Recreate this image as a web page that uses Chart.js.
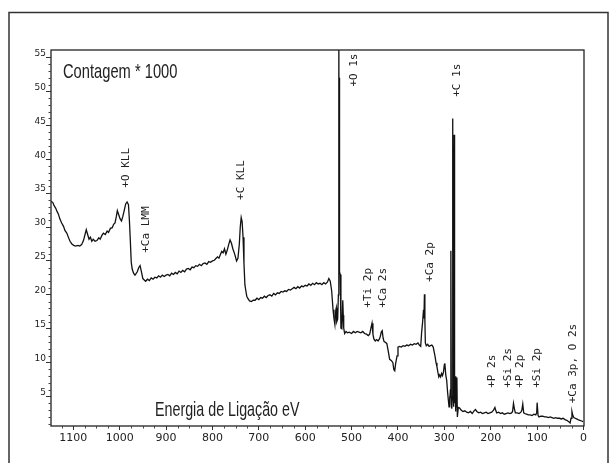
<!DOCTYPE html>
<html>
<head>
<meta charset="utf-8">
<script src="https://cdn.jsdelivr.net/npm/chart.js"></script>
<style>
  body { margin: 0; background: #fff; }
  #wrap { position: relative; width: 613px; height: 463px; }
</style>
</head>
<body>
<div id="wrap"><canvas id="xps"></canvas></div>
<script>
// binding energy (eV) and counts (x1000)
const energy = [
  1148, 1144, 1141, 1138, 1135, 1132, 1129, 1125, 1121, 1118, 1114, 1110, 1107, 1103, 1099, 1095,
  1090, 1086, 1082, 1078, 1075, 1072, 1069, 1066, 1063, 1060, 1057, 1053, 1049, 1045, 1042, 1038,
  1035, 1031, 1027, 1024, 1020, 1016, 1013, 1010, 1007, 1005, 1002, 999, 996, 993, 990, 987,
  984, 981, 979, 977, 975, 973, 970, 967, 965, 962, 959, 956, 953, 950, 947, 944,
  940, 936, 932, 928, 924, 920, 916, 912, 908, 904, 900, 896, 892, 888, 884, 880,
  876, 872, 868, 864, 860, 856, 852, 848, 844, 840, 836, 832, 828, 824, 820, 816,
  812, 808, 804, 800, 796, 792, 789, 786, 783, 780, 777, 774, 771, 768, 765, 762,
  759, 756, 752, 748, 745, 742, 740, 738, 736, 734, 732, 730, 728, 726, 724, 720,
  716, 712, 708, 704, 700, 696, 692, 688, 684, 680, 676, 672, 668, 664, 660, 656,
  652, 648, 644, 640, 636, 632, 628, 624, 620, 616, 612, 608, 604, 600, 596, 592,
  588, 584, 580, 576, 572, 568, 564, 560, 556, 552, 549, 546, 543, 540, 538, 536,
  534, 533, 532, 530, 528.5, 527.5, 527, 526.5, 525.5, 524.5, 523, 521, 519, 518, 517, 515,
  512, 509, 505, 500, 496, 492, 488, 484, 480, 476, 472, 468, 464, 461, 458, 456,
  454, 452, 449, 446, 443, 440, 438, 436, 434, 432, 430, 427, 424, 421, 418, 414,
  411, 409, 407, 405, 402, 400, 397, 393, 389, 385, 381, 377, 373, 369, 365, 361,
  357, 354, 351, 349, 347, 345, 344, 343, 342, 341, 339, 336, 333, 330, 327, 324,
  322, 320, 318, 316, 314, 312, 310, 308, 306, 304, 302, 300, 299, 297, 295, 293,
  291, 290, 289, 288, 287, 286, 285, 284, 283, 282, 281, 280, 279, 278, 277, 276,
  275, 274, 273, 272, 270, 267, 264, 260, 256, 252, 248, 244, 240, 236, 233, 230,
  226, 222, 218, 214, 210, 206, 202, 198, 194, 191, 189, 187, 183, 179, 175, 171,
  167, 163, 159, 155, 153, 151, 149, 147, 143, 139, 135, 133, 131, 129, 127, 123,
  119, 115, 111, 107, 103, 101, 100, 98, 96, 92, 88, 84, 80, 76, 72, 68,
  64, 60, 56, 52, 48, 44, 40, 36, 32, 29, 27, 25, 23, 21, 18, 15,
  12, 8, 4, 1
];
const counts = [
  33.8, 33.6, 33.1, 32.8, 32.3, 31.9, 31.2, 30.6, 30.1, 29.5, 29.1, 28.4, 27.9, 27.5, 27.3, 27.2,
  27.3, 27.2, 27.4, 28.0, 28.8, 29.6, 28.9, 28.2, 28.5, 27.9, 28.2, 27.9, 28.0, 28.4, 28.2, 28.8,
  29.1, 28.9, 29.4, 29.2, 29.8, 29.9, 30.4, 30.6, 31.6, 32.4, 31.8, 31.2, 30.9, 31.6, 32.5, 33.4,
  33.7, 33.3, 31.0, 28.0, 24.8, 23.8, 23.2, 22.9, 23.1, 23.4, 24.0, 24.3, 23.4, 22.4, 22.2, 22.0,
  22.3, 22.1, 22.5, 22.3, 22.6, 22.5, 22.8, 22.6, 22.9, 22.7, 22.9, 23.0, 22.8, 23.2, 23.0, 23.3,
  23.1, 23.5, 23.3, 23.6, 23.4, 23.8, 23.9, 23.7, 24.1, 24.0, 24.3, 24.2, 24.5, 24.3, 24.6, 24.7,
  24.5, 24.9, 24.8, 25.0, 25.1, 25.4, 25.6, 25.4, 25.9, 26.4, 26.2, 26.8, 26.0, 26.6, 27.4, 28.1,
  27.6, 26.8, 26.0, 25.0, 25.4, 27.5, 30.0, 31.4, 30.8, 28.5, 24.6, 21.5, 20.6, 19.8, 19.5, 19.1,
  19.0, 19.2, 19.2, 19.5, 19.3, 19.6, 19.5, 19.8, 19.6, 19.9, 20.0, 19.8, 20.2, 20.0, 20.3, 20.2,
  20.5, 20.4, 20.6, 20.5, 20.8, 20.7, 20.9, 21.1, 20.9, 21.2, 21.0, 21.3, 21.2, 21.4, 21.3, 21.6,
  21.4, 21.7, 21.5, 21.8, 21.6, 21.7, 21.5, 21.8, 21.6, 21.9, 22.4, 22.0, 20.6, 17.8, 16.5, 15.6,
  17.8, 18.1, 16.0, 16.4, 20.0, 58.0, 38.7, 52.0, 23.4, 23.0, 15.1, 15.0, 19.2, 17.0, 15.1, 14.3,
  14.6, 14.4, 14.5, 14.3, 14.6, 14.4, 14.6, 14.5, 14.4, 14.6, 14.3, 14.2, 14.0, 14.2, 15.2, 15.8,
  14.2, 13.5, 13.2, 13.4, 13.2, 13.5, 13.9, 14.5, 14.7, 13.6, 13.1, 13.0, 12.8, 11.7, 10.5, 10.3,
  10.0, 9.0, 8.8, 9.9, 11.0, 12.3, 12.4, 12.3, 12.5, 12.4, 12.6, 12.5, 12.7, 12.6, 12.8, 12.7,
  12.9, 12.6, 12.4, 14.5, 15.9, 17.8, 16.5, 20.1, 16.2, 12.9, 12.5, 12.7, 12.4, 12.5, 12.6, 12.3,
  11.6, 10.9, 10.0, 9.4, 8.6, 7.9, 8.2, 7.9, 8.4, 8.1, 8.6, 9.7, 9.9, 8.2, 7.4, 5.6,
  4.2, 3.5, 5.0, 4.4, 6.0, 26.5, 4.0, 3.2, 5.0, 46.0, 6.0, 3.5, 43.6, 4.0, 7.4, 2.8,
  8.0, 3.5, 7.8, 2.0, 3.4, 3.3, 3.0, 2.8, 2.9, 2.7, 2.6, 2.8, 2.5, 2.9, 3.1, 2.8,
  2.6, 2.7, 2.5, 2.6, 2.7, 2.5, 2.6, 2.7, 3.0, 3.4, 2.9, 2.6, 2.7, 2.5, 2.6, 2.4,
  2.5, 2.6, 2.5, 2.6, 2.8, 4.0, 3.2, 2.6, 2.6, 2.5, 2.7, 3.0, 3.9, 2.6, 2.5, 2.4,
  2.3, 2.3, 2.2, 2.4, 2.3, 2.6, 4.1, 2.2, 2.0, 2.1, 2.1, 2.0, 2.0, 1.9, 2.0, 1.9,
  1.8, 1.9, 1.8, 1.8, 1.7, 1.8, 1.6, 1.5, 1.3, 1.1, 1.8, 2.8, 2.2, 1.9, 1.8, 1.7,
  1.6, 1.5, 1.4, 1.3
];

const x_ticks = [0, 100, 200, 300, 400, 500, 600, 700, 800, 900, 1000, 1100];
const y_ticks = [5, 10, 15, 20, 25, 30, 35, 40, 45, 50, 55];

// peak labels: name, energy of the "+" mark, height of the "+" mark
const peak_names = ['+O KLL', '+Ca LMM', '+C KLL', '+O 1s', '+Ti 2p', '+Ca 2s', '+Ca 2p',
  '+C 1s', '+P 2s', '+Si 2s', '+P 2p', '+Si 2p', '+Ca 3p, O 2s'];
const peak_energy = [986, 942, 739, 495, 465, 432, 331, 272, 196, 162, 137, 99, 23];
const peak_counts = [35.8, 26.2, 34.0, 50.7, 18.1, 18.1, 21.9, 49.2, 6.3, 6.3, 6.3, 6.3, 4.0];

const spectrum = energy.map((e, i) => ({ x: e, y: counts[i] }));

const decor = {
  id: 'decor',
  afterDraw(chart) {
    const { ctx, chartArea: a, scales: { x, y } } = chart;
    ctx.save();

    // outer frame
    ctx.strokeStyle = '#333';
    ctx.lineWidth = 1.5;
    ctx.strokeRect(9, 12.5, 599, 460);

    // plot box
    ctx.strokeStyle = '#222';
    ctx.lineWidth = 1.3;
    ctx.strokeRect(a.left, a.top, a.right - a.left, a.bottom - a.top);

    // minor ticks
    ctx.lineWidth = 1;
    ctx.strokeStyle = '#444';
    ctx.beginPath();
    for (let v = 25; v < 1148; v += 25) {
      if (v % 100 == 0) continue;
      const px = Math.round(x.getPixelForValue(v)) + 0.5;
      ctx.moveTo(px, a.bottom);
      ctx.lineTo(px, a.bottom + 2.5);
    }
    for (let v = 1; v < 56; v++) {
      if (v % 5 == 0) continue;
      const py = Math.round(y.getPixelForValue(v)) + 0.5;
      ctx.moveTo(a.left, py);
      ctx.lineTo(a.left - 2.5, py);
    }
    ctx.stroke();

    // peak labels, vertical
    ctx.fillStyle = '#222';
    ctx.font = '11px "DejaVu Sans Mono"';
    ctx.textAlign = 'left';
    ctx.textBaseline = 'middle';
    peak_names.forEach((name, i) => {
      ctx.save();
      ctx.translate(x.getPixelForValue(peak_energy[i]), y.getPixelForValue(peak_counts[i]));
      ctx.rotate(-Math.PI / 2);
      ctx.fillText(name, 0, 0);
      ctx.restore();
    });

    // condensed captions
    ctx.font = '21px "Liberation Sans"';
    ctx.textBaseline = 'alphabetic';
    ctx.save();
    ctx.translate(63, 78);
    ctx.scale(0.7, 1);
    ctx.fillText('Contagem * 1000', 0, 0);
    ctx.restore();
    ctx.save();
    ctx.translate(155, 416);
    ctx.scale(0.68, 1);
    ctx.fillText('Energia de Ligação eV', 0, 0);
    ctx.restore();

    ctx.restore();
  }
};

new Chart(document.getElementById('xps'), {
  type: 'line',
  data: {
    datasets: [{
      data: spectrum,
      borderColor: '#111',
      borderWidth: 1.3,
      pointRadius: 0,
      tension: 0,
      fill: false
    }]
  },
  options: {
    responsive: true,
    maintainAspectRatio: false,
    animation: false,
    layout: { padding: { top: 50, right: 29, left: 0, bottom: 0 } },
    plugins: { legend: { display: false }, tooltip: { enabled: false } },
    scales: {
      x: {
        type: 'linear',
        reverse: true,
        min: -1,
        max: 1148,
        afterBuildTicks: (s) => { s.ticks = x_ticks.map(v => ({ value: v })); },
        afterFit: (s) => { s.height = 37; },
        border: { display: false },
        grid: { drawOnChartArea: false, drawTicks: true, tickLength: 4, color: '#333' },
        ticks: {
          color: '#222', padding: 2, maxRotation: 0,
          font: { family: 'DejaVu Sans', size: 11 },
          callback: (v) => String(v)
        }
      },
      y: {
        min: 0.66,
        max: 56.1,
        afterBuildTicks: (s) => { s.ticks = y_ticks.map(v => ({ value: v })); },
        afterFit: (s) => { s.width = 51; },
        border: { display: false },
        grid: { drawOnChartArea: false, drawTicks: true, tickLength: 5, color: '#333' },
        ticks: {
          color: '#222', padding: 0, labelOffset: -4,
          font: { family: 'DejaVu Sans', size: 9 },
          callback: (v) => String(v)
        }
      }
    }
  },
  plugins: [decor]
});
</script>
</body>
</html>
